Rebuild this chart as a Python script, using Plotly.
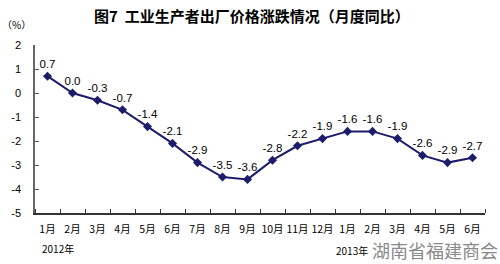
import plotly.graph_objects as go

months = ["1月","2月","3月","4月","5月","6月","7月","8月","9月","10月","11月","12月",
          "1月","2月","3月","4月","5月","6月"]
values = [0.7, 0.0, -0.3, -0.7, -1.4, -2.1, -2.9, -3.5, -3.6, -2.8, -2.2, -1.9,
          -1.6, -1.6, -1.9, -2.6, -2.9, -2.7]
labels = ["0.7","0.0","-0.3","-0.7","-1.4","-2.1","-2.9","-3.5","-3.6","-2.8","-2.2","-1.9",
          "-1.6","-1.6","-1.9","-2.6","-2.9","-2.7"]
yticks = [2, 1, 0, -1, -2, -3, -4, -5]
title = "图7  工业生产者出厂价格涨跌情况（月度同比）"

xs = list(range(len(months)))
cjk = "Noto Sans CJK SC"

# plot area in pixels
L, R, T, B = 35, 485, 45, 213
W, H = R - L, B - T
def px(x):
    return (x - L) / W
def py(y):
    return (B - y) / H

fig = go.Figure()
fig.add_trace(go.Scatter(
    x=xs, y=values, mode="lines+markers+text",
    text=labels, textposition="top center",
    textfont=dict(family="Liberation Sans, Arial", size=11.5, color="#000"),
    line=dict(color="#1c1c6b", width=2),
    marker=dict(symbol="diamond", size=7, color="#1c1c6b"),
    cliponaxis=False, showlegend=False,
))

fig.update_layout(
    width=500, height=264,
    margin=dict(l=L, r=500 - R, t=T, b=264 - B),
    paper_bgcolor="white", plot_bgcolor="white",
    xaxis=dict(
        range=[-0.5, len(months) - 0.5],
        tickmode="array", tickvals=xs, ticktext=months, tickangle=0,
        ticks="", showgrid=False, zeroline=False,
        showline=True, linecolor="#333", linewidth=1.5,
        tickfont=dict(family=cjk, size=10.5, color="#000"),
        ticklabelstandoff=6,
        minor=dict(tickmode="linear", tick0=0.5, dtick=1, ticks="inside",
                   ticklen=4, tickcolor="#333", showgrid=False),
        automargin=False,
    ),
    yaxis=dict(
        range=[-5, 2], tickmode="array", tickvals=yticks,
        ticktext=[str(v) for v in yticks],
        ticks="inside", ticklen=4, tickcolor="#555",
        showgrid=False, zeroline=False,
        showline=True, linecolor="#666", linewidth=1.5,
        tickfont=dict(family="Liberation Sans, Arial", size=11, color="#000"),
        ticklabelstandoff=10, automargin=False,
    ),
    annotations=[
        dict(text="<b>" + title + "</b>", x=px(252), y=py(16),
             xanchor="center", yanchor="middle",
             font=dict(family=cjk, size=15, color="#000")),
        dict(text="（%）", x=px(0), y=py(25), xanchor="left", yanchor="middle",
             font=dict(family=cjk, size=10, color="#000")),
        dict(text="2012年", x=px(40), y=py(248), xanchor="left", yanchor="middle",
             font=dict(family=cjk, size=10, color="#000")),
        dict(text="2013年", x=px(334), y=py(250), xanchor="left", yanchor="middle",
             font=dict(family=cjk, size=10, color="#000")),
        dict(text="湖南省福建商会", x=px(500), y=py(250), xanchor="right", yanchor="middle",
             font=dict(family=cjk, size=18, color="#8a8a8a")),
    ],
)
for a in fig.layout.annotations:
    a.update(xref="paper", yref="paper", showarrow=False)

fig.write_html("out.html")
